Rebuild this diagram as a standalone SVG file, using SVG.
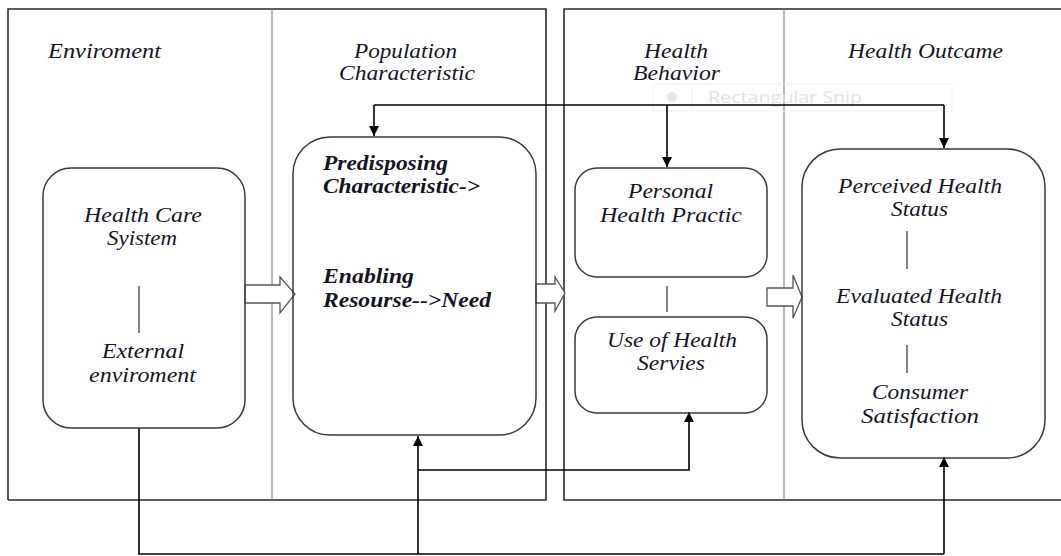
<svg xmlns="http://www.w3.org/2000/svg" width="1061" height="556" viewBox="0 0 1061 556">
<defs>
<marker id="ah" viewBox="0 0 10 10" refX="10" refY="5" markerWidth="10" markerHeight="10" markerUnits="userSpaceOnUse" orient="auto">
<path d="M0,0 L10,5 L0,10 z" fill="#000"/>
</marker>
</defs>
<style>
.t{font-family:"Liberation Serif","Times New Roman",serif;font-style:italic;font-size:21px;fill:#15151f}
.b{font-weight:bold}
.box{fill:none;stroke:#3a3a3a;stroke-width:1.5}
.frame{fill:none;stroke:#2a2a2a;stroke-width:1.6}
.div{stroke:#8a8a8a;stroke-width:1.2}
.c{fill:none;stroke:#000;stroke-width:1.6}
.blk{fill:#fff;stroke:#555;stroke-width:1.3}
.sep{stroke:#333;stroke-width:1.2}
</style>
<rect width="1061" height="556" fill="#fff"/>
<g id="frames">
<path class="frame" d="M8,500 L8,9 L546,9 L546,500 L8,500"/>
<path class="frame" d="M1061,9 L564,9 L564,500 L1061,500"/>
<line class="div" x1="272" y1="9" x2="272" y2="500"/>
<line class="div" x1="784" y1="9" x2="784" y2="500"/>
</g>
<g id="headers">
<text class="t" x="48" y="58" textLength="113" lengthAdjust="spacingAndGlyphs">Enviroment</text>
<text class="t" x="354" y="58" textLength="103" lengthAdjust="spacingAndGlyphs">Population</text>
<text class="t" x="339" y="80" textLength="136" lengthAdjust="spacingAndGlyphs">Characteristic</text>
<text class="t" x="644" y="58" textLength="64" lengthAdjust="spacingAndGlyphs">Health</text>
<text class="t" x="633" y="80" textLength="87" lengthAdjust="spacingAndGlyphs">Behavior</text>
<text class="t" x="848" y="58" textLength="155" lengthAdjust="spacingAndGlyphs">Health Outcame</text>
</g>
<g id="snip-overlay" opacity="0.9">
<rect x="653" y="84" width="299" height="27" fill="none" stroke="#eef1f6" stroke-width="1"/>
<circle cx="672" cy="97" r="5" fill="#e6e6e6"/>
<line x1="692" y1="86" x2="692" y2="109" stroke="#eef1f6"/>
<text x="708" y="103" font-family="Open Sans, sans-serif" font-size="16" fill="#e2e2e2" textLength="154" lengthAdjust="spacingAndGlyphs">Rectangular Snip</text>
</g>
<g id="connectors">
<path class="c" d="M374,105 L944,105"/>
<path class="c" d="M374,105 L374,136" marker-end="url(#ah)"/>
<path class="c" d="M667,105 L667,167" marker-end="url(#ah)"/>
<path class="c" d="M944,105 L944,148" marker-end="url(#ah)"/>
<path class="c" d="M139,428 L139,554 L944,554"/>
<path class="c" d="M418,554 L418,436" marker-end="url(#ah)"/>
<path class="c" d="M944,554 L944,457" marker-end="url(#ah)"/>
<path class="c" d="M418,470 L689,470 L689,412" marker-end="url(#ah)"/>
<path class="blk" d="M245,285 L280,285 L280,277 L295,294 L280,313 L280,303 L245,303 z"/>
<path class="blk" d="M536,284 L555,284 L555,277 L565,293 L555,311 L555,303 L536,303 z"/>
<path class="blk" d="M767,288 L793,288 L793,275 L802,297 L793,318 L793,306 L767,306 z"/>
</g>
<g id="node-healthcare">
<rect class="box" x="43" y="168" width="202" height="260" rx="28"/>
<text class="t" x="84" y="222" textLength="118" lengthAdjust="spacingAndGlyphs">Health Care</text>
<text class="t" x="107" y="245" textLength="70" lengthAdjust="spacingAndGlyphs">Syistem</text>
<line class="sep" x1="139" y1="286" x2="139" y2="333"/>
<text class="t" x="102" y="358" textLength="82" lengthAdjust="spacingAndGlyphs">External</text>
<text class="t" x="89" y="382" textLength="107" lengthAdjust="spacingAndGlyphs">enviroment</text>
</g>
<g id="node-population">
<rect class="box" x="293" y="137" width="243" height="298" rx="37"/>
<text class="t b" x="323" y="170" textLength="125" lengthAdjust="spacingAndGlyphs">Predisposing</text>
<text class="t b" x="323" y="193" textLength="157" lengthAdjust="spacingAndGlyphs">Characteristic-&gt;</text>
<text class="t b" x="323" y="283" textLength="91" lengthAdjust="spacingAndGlyphs">Enabling</text>
<text class="t b" x="323" y="307" textLength="168" lengthAdjust="spacingAndGlyphs">Resourse--&gt;Need</text>
</g>
<g id="node-personal">
<rect class="box" x="575" y="168" width="192" height="109" rx="22"/>
<text class="t" x="628" y="198" textLength="85" lengthAdjust="spacingAndGlyphs">Personal</text>
<text class="t" x="600" y="222" textLength="142" lengthAdjust="spacingAndGlyphs">Health Practic</text>
</g>
<line class="sep" x1="667" y1="286" x2="667" y2="312"/>
<g id="node-use">
<rect class="box" x="575" y="317" width="192" height="96" rx="22"/>
<text class="t" x="607" y="347" textLength="130" lengthAdjust="spacingAndGlyphs">Use of Health</text>
<text class="t" x="637" y="370" textLength="68" lengthAdjust="spacingAndGlyphs">Servies</text>
</g>
<g id="node-outcome">
<rect class="box" x="802" y="149" width="243" height="309" rx="38"/>
<text class="t" x="838" y="193" textLength="164" lengthAdjust="spacingAndGlyphs">Perceived Health</text>
<text class="t" x="891" y="216" textLength="57" lengthAdjust="spacingAndGlyphs">Status</text>
<line class="sep" x1="907" y1="231" x2="907" y2="269"/>
<text class="t" x="836" y="303" textLength="166" lengthAdjust="spacingAndGlyphs">Evaluated Health</text>
<text class="t" x="891" y="326" textLength="57" lengthAdjust="spacingAndGlyphs">Status</text>
<line class="sep" x1="907" y1="345" x2="907" y2="373"/>
<text class="t" x="872" y="399" textLength="96" lengthAdjust="spacingAndGlyphs">Consumer</text>
<text class="t" x="861" y="423" textLength="118" lengthAdjust="spacingAndGlyphs">Satisfaction</text>
</g>
</svg>
